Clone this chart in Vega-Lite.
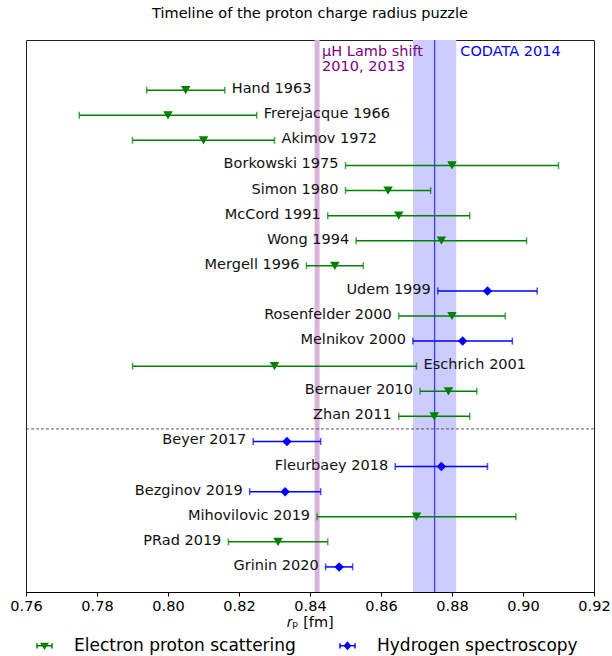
{
  "$schema": "https://vega.github.io/schema/vega-lite/v6.json",
  "width": 568,
  "height": 552,
  "autosize": {"type": "none"},
  "padding": {"left": 26, "top": 40, "right": 18, "bottom": 64},
  "background": "white",
  "config": {
    "font": "DejaVu Sans",
    "view": {"stroke": "#222", "strokeWidth": 1},
    "axis": {"grid": false}
  },
  "title": {
    "text": "Timeline of the proton charge radius puzzle",
    "fontSize": 14.5,
    "fontWeight": "normal",
    "color": "black",
    "offset": 18
  },
  "datasets": {
    "measurements": [
      {"idx": 0, "name": "Hand 1963", "method": "Electron proton scattering", "value": 0.805, "lo": 0.794, "hi": 0.816},
      {"idx": 1, "name": "Frerejacque 1966", "method": "Electron proton scattering", "value": 0.800, "lo": 0.775, "hi": 0.825},
      {"idx": 2, "name": "Akimov 1972", "method": "Electron proton scattering", "value": 0.810, "lo": 0.790, "hi": 0.830},
      {"idx": 3, "name": "Borkowski 1975", "method": "Electron proton scattering", "value": 0.880, "lo": 0.850, "hi": 0.910},
      {"idx": 4, "name": "Simon 1980", "method": "Electron proton scattering", "value": 0.862, "lo": 0.850, "hi": 0.874},
      {"idx": 5, "name": "McCord 1991", "method": "Electron proton scattering", "value": 0.865, "lo": 0.845, "hi": 0.885},
      {"idx": 6, "name": "Wong 1994", "method": "Electron proton scattering", "value": 0.877, "lo": 0.853, "hi": 0.901},
      {"idx": 7, "name": "Mergell 1996", "method": "Electron proton scattering", "value": 0.847, "lo": 0.839, "hi": 0.855},
      {"idx": 8, "name": "Udem 1999", "method": "Hydrogen spectroscopy", "value": 0.890, "lo": 0.876, "hi": 0.904},
      {"idx": 9, "name": "Rosenfelder 2000", "method": "Electron proton scattering", "value": 0.880, "lo": 0.865, "hi": 0.895},
      {"idx": 10, "name": "Melnikov 2000", "method": "Hydrogen spectroscopy", "value": 0.883, "lo": 0.869, "hi": 0.897},
      {"idx": 11, "name": "Eschrich 2001", "method": "Electron proton scattering", "value": 0.830, "lo": 0.790, "hi": 0.870},
      {"idx": 12, "name": "Bernauer 2010", "method": "Electron proton scattering", "value": 0.879, "lo": 0.871, "hi": 0.887},
      {"idx": 13, "name": "Zhan 2011", "method": "Electron proton scattering", "value": 0.875, "lo": 0.865, "hi": 0.885},
      {"idx": 14, "name": "Beyer 2017", "method": "Hydrogen spectroscopy", "value": 0.8335, "lo": 0.824, "hi": 0.843},
      {"idx": 15, "name": "Fleurbaey 2018", "method": "Hydrogen spectroscopy", "value": 0.877, "lo": 0.864, "hi": 0.890},
      {"idx": 16, "name": "Bezginov 2019", "method": "Hydrogen spectroscopy", "value": 0.833, "lo": 0.823, "hi": 0.843},
      {"idx": 17, "name": "Mihovilovic 2019", "method": "Electron proton scattering", "value": 0.870, "lo": 0.842, "hi": 0.898},
      {"idx": 18, "name": "PRad 2019", "method": "Electron proton scattering", "value": 0.831, "lo": 0.817, "hi": 0.845},
      {"idx": 19, "name": "Grinin 2020", "method": "Hydrogen spectroscopy", "value": 0.8482, "lo": 0.8444, "hi": 0.852}
    ],
    "references": [
      {"name": "CODATA 2014", "label": ["CODATA 2014"], "value": 0.8751, "lo": 0.869, "hi": 0.8812},
      {"name": "muH", "label": ["μH Lamb shift", "2010, 2013"], "value": 0.842, "lo": 0.8413, "hi": 0.8427}
    ]
  },
  "layer": [
    {
      "data": {"name": "references"},
      "transform": [{"filter": "datum.name === 'CODATA 2014'"}],
      "mark": {"type": "rect", "color": "#ccccff"},
      "encoding": {
        "x": {
          "field": "lo", "type": "quantitative", "title": "𝑟ₚ [fm]",
          "scale": {"domain": [0.76, 0.92], "nice": false, "zero": false},
          "axis": {
            "values": [0.76, 0.78, 0.8, 0.82, 0.84, 0.86, 0.88, 0.9, 0.92],
            "format": ".2f",
            "labelFontSize": 14.5, "labelColor": "black", "labelPadding": 3,
            "tickColor": "black", "tickSize": 4, "domainColor": "black",
            "titleFontSize": 14.5, "titleFontWeight": "normal", "titleColor": "black", "titlePadding": 3,
            "labelFlush": false
          }
        },
        "x2": {"field": "hi"}
      }
    },
    {
      "data": {"name": "references"},
      "transform": [{"filter": "datum.name === 'muH'"}],
      "mark": {"type": "rect", "color": "#d9b3d9"},
      "encoding": {
        "x": {"field": "lo", "type": "quantitative", "title": "𝑟ₚ [fm]"},
        "x2": {"field": "hi"}
      }
    },
    {
      "data": {"name": "references"},
      "transform": [{"filter": "datum.name === 'CODATA 2014'"}],
      "mark": {"type": "rule", "color": "#3b3bff", "strokeWidth": 1.3},
      "encoding": {
        "x": {"field": "value", "type": "quantitative", "title": "𝑟ₚ [fm]"}
      }
    },
    {
      "data": {"values": [{}]},
      "mark": {"type": "rule", "color": "#333", "strokeWidth": 0.8, "strokeDash": [3, 2]},
      "encoding": {
        "y": {"datum": 13.5, "type": "quantitative", "axis": null,
              "scale": {"domain": [-2, 20], "reverse": true, "nice": false, "zero": false}}
      }
    },
    {
      "data": {"name": "measurements"},
      "mark": {"type": "errorbar", "ticks": {"size": 7}, "thickness": 1.5},
      "encoding": {
        "x": {"field": "lo", "type": "quantitative", "title": "𝑟ₚ [fm]"},
        "x2": {"field": "hi"},
        "y": {"field": "idx", "type": "quantitative", "axis": null},
        "color": {"field": "method", "type": "nominal", "legend": null,
                  "scale": {"domain": ["Electron proton scattering", "Hydrogen spectroscopy"], "range": ["#008000", "#0000ff"]}}
      }
    },
    {
      "data": {"name": "measurements"},
      "mark": {"type": "point", "filled": true, "opacity": 1, "size": 90},
      "encoding": {
        "x": {"field": "value", "type": "quantitative", "title": "𝑟ₚ [fm]"},
        "y": {"field": "idx", "type": "quantitative", "axis": null},
        "shape": {"field": "method", "type": "nominal", "legend": null,
                  "scale": {"domain": ["Electron proton scattering", "Hydrogen spectroscopy"], "range": ["triangle-down", "diamond"]}},
        "color": {"field": "method", "type": "nominal", "legend": null}
      }
    },
    {
      "data": {"name": "measurements"},
      "transform": [{"filter": "false"}],
      "mark": {"type": "point", "filled": true, "opacity": 1, "strokeWidth": 1.5},
      "encoding": {
        "x": {"field": "value", "type": "quantitative", "title": "𝑟ₚ [fm]"},
        "y": {"field": "idx", "type": "quantitative", "axis": null},
        "shape": {"field": "method", "type": "nominal",
                  "scale": {"domain": ["Electron proton scattering", "Hydrogen spectroscopy"],
                            "range": ["M-1,0H1M-1,-0.35V0.35M1,-0.35V0.35M-0.42,-0.3L0.42,-0.3L0,0.38Z", "M-1,0H1M-1,-0.35V0.35M1,-0.35V0.35M0,-0.45L0.4,0L0,0.45L-0.4,0Z"]},
                  "legend": {"orient": "none", "legendX": 10, "legendY": 597,
                    "direction": "horizontal", "title": null, "padding": 0,
                    "labelFontSize": 17, "labelColor": "black", "labelLimit": 400,
                    "symbolSize": 225, "labelOffset": 21, "columnPadding": 41, "symbolStrokeWidth": 1.5}},
        "color": {"field": "method", "type": "nominal",
                  "legend": {"orient": "none", "legendX": 10, "legendY": 597,
                    "direction": "horizontal", "title": null, "padding": 0,
                    "labelFontSize": 17, "labelColor": "black", "labelLimit": 400,
                    "symbolSize": 225, "labelOffset": 21, "columnPadding": 41, "symbolStrokeWidth": 1.5}},
        "stroke": {"field": "method", "type": "nominal",
                   "scale": {"domain": ["Electron proton scattering", "Hydrogen spectroscopy"], "range": ["#008000", "#0000ff"]},
                   "legend": {"orient": "none", "legendX": 10, "legendY": 597,
                    "direction": "horizontal", "title": null, "padding": 0,
                    "labelFontSize": 17, "labelColor": "black", "labelLimit": 400,
                    "symbolSize": 225, "labelOffset": 21, "columnPadding": 41, "symbolStrokeWidth": 1.5}}
      }
    },
    {
      "data": {"name": "measurements"},
      "transform": [{"filter": {"field": "name", "oneOf": ["Hand 1963", "Frerejacque 1966", "Akimov 1972", "Eschrich 2001"]}}],
      "mark": {"type": "text", "align": "left", "baseline": "middle", "dx": 7, "dy": -1, "fontSize": 14.5, "color": "#111"},
      "encoding": {
        "x": {"field": "hi", "type": "quantitative", "title": "𝑟ₚ [fm]"},
        "y": {"field": "idx", "type": "quantitative", "axis": null},
        "text": {"field": "name"}
      }
    },
    {
      "data": {"name": "measurements"},
      "transform": [{"filter": {"not": {"field": "name", "oneOf": ["Hand 1963", "Frerejacque 1966", "Akimov 1972", "Eschrich 2001"]}}}],
      "mark": {"type": "text", "align": "right", "baseline": "middle", "dx": -7, "dy": -1, "fontSize": 14.5, "color": "#111"},
      "encoding": {
        "x": {"field": "lo", "type": "quantitative", "title": "𝑟ₚ [fm]"},
        "y": {"field": "idx", "type": "quantitative", "axis": null},
        "text": {"field": "name"}
      }
    },
    {
      "data": {"name": "references"},
      "transform": [{"filter": "datum.name === 'muH'"}],
      "mark": {"type": "text", "align": "left", "baseline": "alphabetic", "dx": 2.5, "dy": 16, "lineHeight": 15, "fontSize": 14.5, "color": "#800080"},
      "encoding": {
        "x": {"field": "hi", "type": "quantitative", "title": "𝑟ₚ [fm]"},
        "y": {"datum": -2, "type": "quantitative", "axis": null},
        "text": {"field": "label"}
      }
    },
    {
      "data": {"name": "references"},
      "transform": [{"filter": "datum.name === 'CODATA 2014'"}],
      "mark": {"type": "text", "align": "left", "baseline": "alphabetic", "dx": 4, "dy": 16, "lineHeight": 15, "fontSize": 14.5, "color": "#0000ff"},
      "encoding": {
        "x": {"field": "hi", "type": "quantitative", "title": "𝑟ₚ [fm]"},
        "y": {"datum": -2, "type": "quantitative", "axis": null},
        "text": {"field": "label"}
      }
    }
  ],
  "resolve": {
    "scale": {"shape": "independent"},
    "legend": {"color": "independent", "shape": "independent", "stroke": "independent"}
  }
}
